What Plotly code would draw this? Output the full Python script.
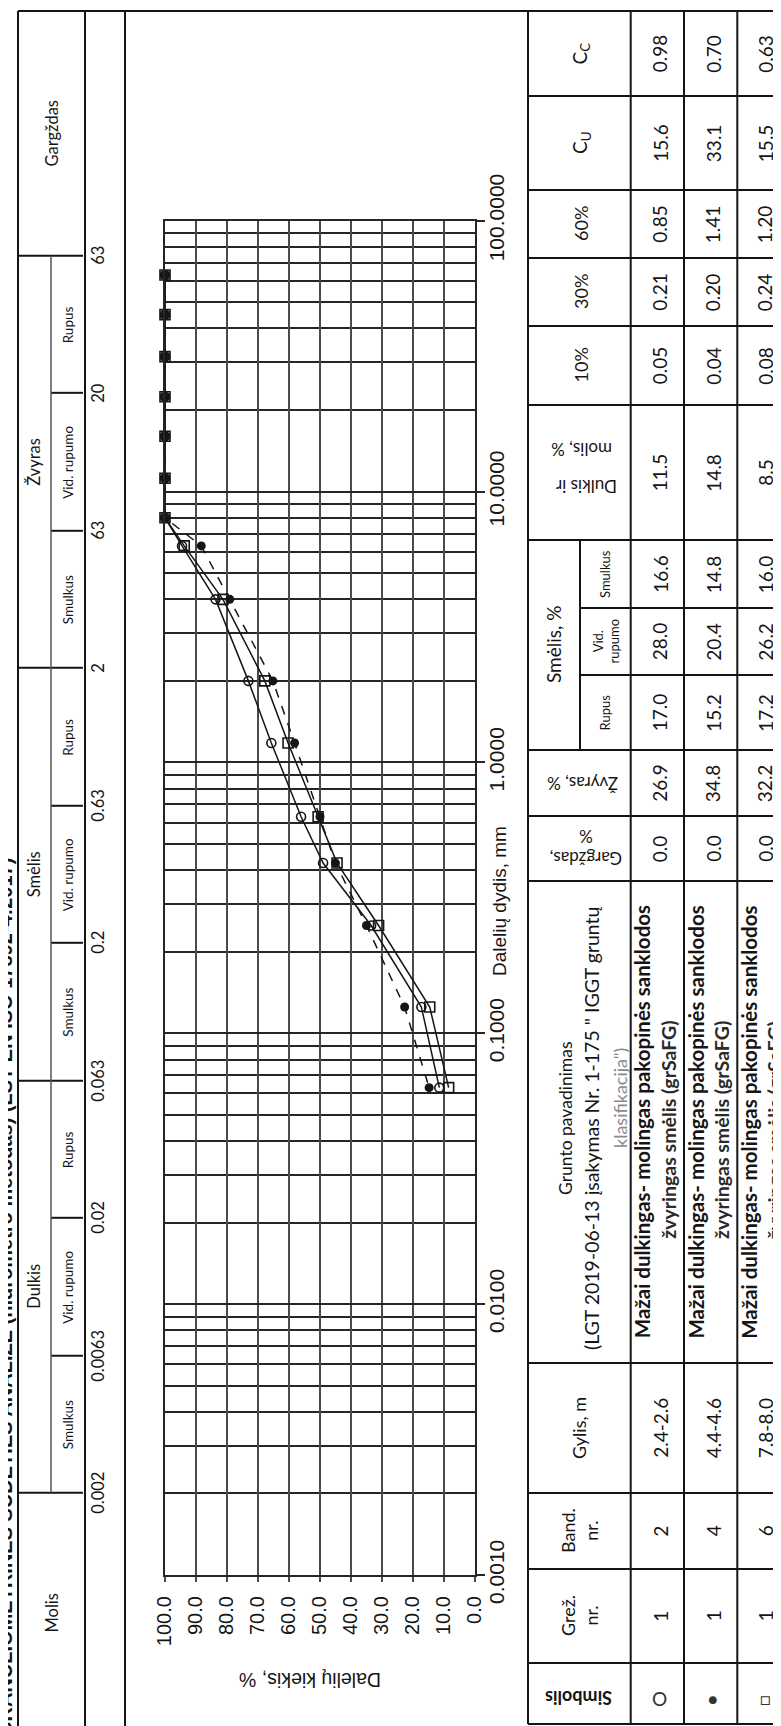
import math
import plotly.graph_objects as go

# ---------------- data ----------------
sieve_mm = [63, 45, 31.5, 22.4, 16, 11.2, 8, 6.3, 4, 2, 1.18, 0.63, 0.425, 0.25, 0.125, 0.063]
pass_b2 = [100, 100, 100, 100, 100, 100, 100, 94.5, 83.7, 73.1, 65.7, 56.1, 49.0, 33.5, 17.3, 11.5]
pass_b4 = [100, 100, 100, 100, 100, 100, 100, 88.3, 79.1, 65.2, 58.2, 50.0, 45.0, 35.0, 22.7, 14.8]
pass_b6 = [100, 100, 100, 100, 100, 100, 100, 93.8, 81.3, 67.8, 60.3, 50.6, 44.5, 31.1, 14.6, 8.5]

size_tick_vals = [0.001, 0.01, 0.1, 1, 10, 100]
size_tick_text = ["0.0010", "0.0100", "0.1000", "1.0000", "10.0000", "100.0000"]
pct_tick_vals = [0, 10, 20, 30, 40, 50, 60, 70, 80, 90, 100]
pct_tick_text = ["0.0", "10.0", "20.0", "30.0", "40.0", "50.0", "60.0", "70.0", "80.0", "90.0", "100.0"]

class_bounds = [0.002, 0.0063, 0.02, 0.063, 0.2, 0.63, 2, 6.3, 20, 63]
class_bound_labels = ["0.002", "0.0063", "0.02", "0.063", "0.2", "0.63", "2", "63", "20", "63"]
major_bounds = [0.002, 0.063, 2, 63]
main_classes = ["Dulkis", "Smėlis", "Žvyras"]
sub_classes = ["Smulkus", "Vid. rupumo", "Rupus"]

symbols = ["O", "●", "□"]
grez_nr = ["1", "1", "1"]
band_nr = ["2", "4", "6"]
gylis = ["2.4-2.6", "4.4-4.6", "7.8-8.0"]
name_line1 = ["Mažai dulkingas- molingas pakopinės sanklodos"] * 3
name_line2 = ["žvyringas smėlis (grSaFG)"] * 3
gargzdas = ["0.0", "0.0", "0.0"]
zvyras = ["26.9", "34.8", "32.2"]
smelis_rupus = ["17.0", "15.2", "17.2"]
smelis_vid = ["28.0", "20.4", "26.2"]
smelis_smulkus = ["16.6", "14.8", "16.0"]
dulkis_molis = ["11.5", "14.8", "8.5"]
d10 = ["0.05", "0.04", "0.08"]
d30 = ["0.21", "0.20", "0.24"]
d60 = ["0.85", "1.41", "1.20"]
cu = ["15.6", "33.1", "15.5"]
cc = ["0.98", "0.70", "0.63"]

# ---------------- layout helpers (pixels -> paper) ----------------
W, H = 781, 1726
def PX(x):
    return x / W
def PY(y):
    return 1 - y / H

PLOT_L, PLOT_R, PLOT_T, PLOT_B = 157, 467, 212.7, 1567
TXT = "Lato, Calibri, sans-serif"
ARIAL = "Liberation Sans, Arial, sans-serif"
INK = "#151515"
GRID_V = "#4a4a4a"
GRID_H = "#262626"

fig = go.Figure()

series = [
    (pass_b2, dict(symbol="circle-open", size=9, color=INK, line=dict(width=1.6, color=INK)), "solid"),
    (pass_b4, dict(symbol="circle", size=9, color=INK), "dash"),
    (pass_b6, dict(symbol="square-open", size=10, color=INK, line=dict(width=1.6, color=INK)), "solid"),
]
for vals, mk, dash in series:
    fig.add_trace(go.Scatter(
        x=vals, y=sieve_mm, mode="lines+markers", marker=mk,
        line=dict(color=INK, width=1.5, dash=dash), cliponaxis=False,
        showlegend=False, hoverinfo="x+y"))

# invisible trace so the header axis (y2) exists
fig.add_trace(go.Scatter(x=[None], y=[None], yaxis="y2", showlegend=False, hoverinfo="skip"))

shapes = []
annotations = []

def hline(y, x0, x1, w=2, c=INK):
    shapes.append(dict(type="line", xref="paper", yref="paper",
                       x0=PX(x0), x1=PX(x1), y0=PY(y), y1=PY(y), line=dict(color=c, width=w)))

def vline(x, y0, y1, w=2, c=INK):
    shapes.append(dict(type="line", xref="paper", yref="paper",
                       x0=PX(x), x1=PX(x), y0=PY(y0), y1=PY(y1), line=dict(color=c, width=w)))

def text(s, x, y, size=17, angle=-90, bold=False, color=INK, family=TXT, yref="paper"):
    if bold:
        s = "<b>" + s + "</b>"
    annotations.append(dict(text=s, x=PX(x), y=(PY(y) if yref == "paper" else y),
                            xref="paper", yref=yref, showarrow=False, textangle=angle,
                            xanchor="center", yanchor="middle",
                            font=dict(family=family, size=size, color=color)))

# ---------------- outer frame of the chart part ----------------
hline(3, 10, 780)
for x in (10, 77, 117):
    vline(x, 3, 1726)

# ---------------- header (soil classes) on its own scale y2 ----------------
for b in class_bounds:
    x0 = 10 if b in major_bounds else 43
    shapes.append(dict(type="line", xref="paper", yref="y2", x0=PX(x0), x1=PX(75),
                       y0=math.log10(b), y1=math.log10(b), line=dict(color=INK, width=2)))
shapes.append(dict(type="line", xref="paper", yref="y2", x0=PX(43), x1=PX(43),
                   y0=math.log10(class_bounds[0]), y1=math.log10(class_bounds[-1]),
                   line=dict(color="#555", width=1.5)))
for b, lab in zip(class_bounds, class_bound_labels):
    text(lab, 90, math.log10(b), size=16.5, yref="y2")
for i, name in enumerate(main_classes):
    lo, hi = major_bounds[i], major_bounds[i + 1]
    text(name, 26, (math.log10(lo) + math.log10(hi)) / 2, size=16.5, yref="y2")
subs = class_bounds
for i in range(len(subs) - 1):
    mid = (math.log10(subs[i]) + math.log10(subs[i + 1])) / 2
    text(sub_classes[i % 3], 60, mid, size=13.5, yref="y2")
text("Gargždas", 43.5, 125, size=16.5)
text("Molis", 43.5, 1605, size=16.5)

# title strip (cut by the page edge)
text("GRANULIOMETRINĖS SUDĖTIES ANALIZĖ (hidrometro metodas) (LST EN ISO 17892-4:2017)",
     -3, 1290, size=20, bold=True, family=ARIAL)

# ---------------- axis titles ----------------
text("Dalelių dydis, mm", 491, 893, size=19, family=ARIAL)
text("Dalelių kiekis, %", 302, 1672, size=19.5, angle=180, family=ARIAL)

# ---------------- table ----------------
T_L, T_HDR, T_R = 520, 622.7, 780
row_edges = [622.7, 676, 729.3, 780]
for x in (T_L, 622.7, 676, 729.3, T_R):
    vline(x, 3, 1716)
vline(572, 532, 742)
for y in (3, 88, 182, 250, 318, 397, 532, 742, 808, 873, 1355, 1485, 1561, 1655, 1716):
    hline(y, T_L, T_R)
for y in (600, 667):
    hline(y, 572, T_R)

# header texts
text("Simbolis", 571, 1690, size=18, angle=180, bold=True)
text("Grež.<br>nr.", 571, 1608, size=18)
text("Band.<br>nr.", 571, 1523, size=18)
text("Gylis, m", 571, 1420, size=18)
text("Grunto pavadinimas", 557, 1110, size=17.5)
text("(LGT 2019-06-13 įsakymas Nr. 1-175 \" IGGT gruntų", 583, 1120, size=19.5)
text("klasifikacija\")", 612, 1090, size=18, color="#8a8a8a")
text("Gargždas,<br>%", 578, 840, size=17, angle=180)
text("Žvyras, %", 575, 775, size=17, angle=180)
text("Smėlis, %", 546, 637, size=19)
text("Rupus", 597, 704.5, size=13)
text("Vid.<br>rupumo", 598, 633.5, size=13)
text("Smulkus", 597, 566, size=13)
text("Dulkis ir", 578, 478, size=17, angle=180)
text("molis, %", 574, 441, size=17, angle=180)
text("10%", 573, 357.5, size=18)
text("30%", 573, 284, size=18)
text("60%", 573, 216, size=18)
text("C<sub>U</sub>", 573, 135, size=19)
text("C<sub>C</sub>", 573, 45.5, size=19)

# row values
col_y = [
    (grez_nr, 1608), (band_nr, 1523), (gylis, 1420), (gargzdas, 840.5), (zvyras, 775),
    (smelis_rupus, 704.5), (smelis_vid, 633.5), (smelis_smulkus, 566), (dulkis_molis, 464.5),
    (d10, 357.5), (d30, 284), (d60, 216), (cu, 135), (cc, 45.5),
]
sym_sizes = [19, 16, 17]
for r in range(3):
    x0, x1 = row_edges[r], row_edges[r + 1]
    xc = (x0 + x1) / 2 + 2.5
    text(symbols[r], xc, 1690, size=sym_sizes[r], angle=0, color="#333")
    for vals, y in col_y:
        text(vals[r], xc, y, size=19)
    text(name_line1[r], x0 + 11.5, 1114, size=20.5, bold=True)
    text(name_line2[r], x0 + 37, 1122, size=19.5, bold=True, color="#2a2a2a")

minor_vals = [m * 10 ** e for e in range(-3, 2) for m in range(2, 10)]

fig.update_layout(
    template="none",
    width=W, height=H, margin=dict(l=0, r=0, t=0, b=0, pad=0), autosize=False,
    paper_bgcolor="white", plot_bgcolor="white", showlegend=False,
    shapes=shapes, annotations=annotations,
    xaxis=dict(domain=[PX(PLOT_L), PX(PLOT_R)], range=[100, 0], automargin=False,
               tickmode="array", tickvals=pct_tick_vals, ticktext=pct_tick_text,
               tickangle=-90, ticks="outside", ticklen=5, tickwidth=1.5, tickcolor=GRID_V,
               showgrid=True, gridcolor=GRID_V, gridwidth=1.8,
               showline=True, linecolor=GRID_H, linewidth=2.2, mirror=True, zeroline=False,
               tickfont=dict(family=ARIAL, size=20, color=INK), ticklabelstandoff=6),
    yaxis=dict(type="log", domain=[PY(PLOT_B), PY(PLOT_T)], range=[-3, 2], side="right",
               automargin=False,
               tickmode="array", tickvals=size_tick_vals, ticktext=size_tick_text,
               tickangle=-90, ticks="outside", ticklen=8, tickwidth=2, tickcolor=GRID_H,
               showgrid=True, gridcolor=GRID_H, gridwidth=2.4,
               minor=dict(tickmode="array", tickvals=minor_vals, showgrid=True,
                          gridcolor=GRID_H, gridwidth=2.4, ticks=""),
               showline=True, linecolor=GRID_H, linewidth=2.2, mirror=True, zeroline=False,
               tickfont=dict(family=ARIAL, size=21, color=INK), ticklabelstandoff=-6),
    yaxis2=dict(overlaying="y", anchor="x", range=[-2.998, 1.927], visible=False,
                automargin=False, showgrid=False, zeroline=False),
)

fig.write_html("out.html")
